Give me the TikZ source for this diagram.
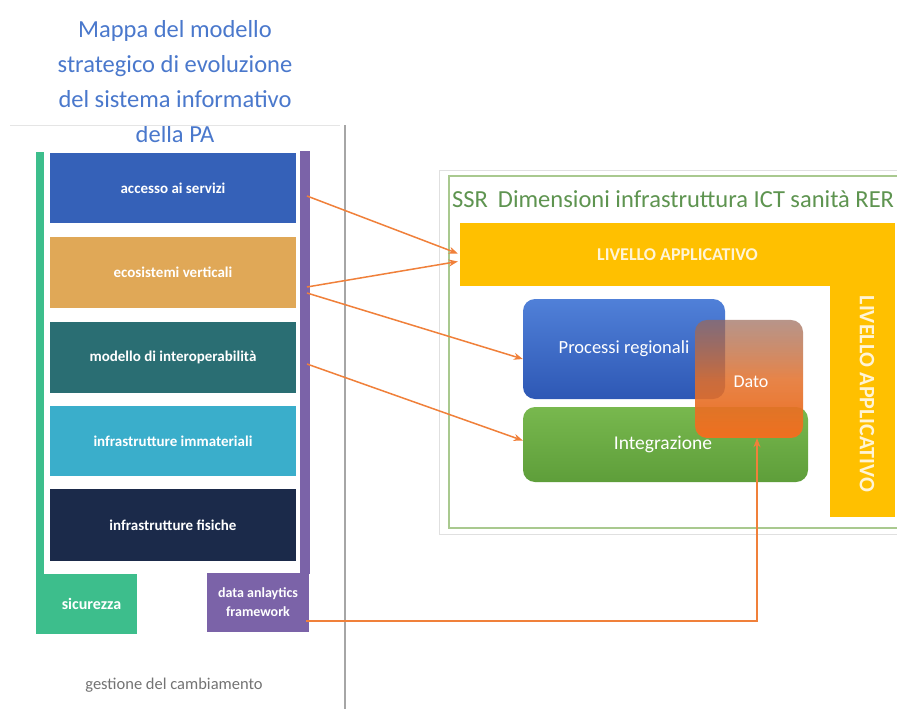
\documentclass[tikz,border=0pt]{standalone}
\usepackage{fontspec}
\setmainfont{Carlito}
\usetikzlibrary{arrows.meta,calc,fadings}
\definecolor{titleblue}{HTML}{4A78CC}
\definecolor{cacc}{HTML}{3561B8}
\definecolor{ceco}{HTML}{E0A857}
\definecolor{cmod}{HTML}{2A6E73}
\definecolor{cimm}{HTML}{3AAECB}
\definecolor{cfis}{HTML}{1B2A4A}
\definecolor{cgreen}{HTML}{3DBE8C}
\definecolor{cpurple}{HTML}{7B63A8}
\definecolor{cyellow}{HTML}{FFC000}
\definecolor{cframe}{HTML}{A9C98F}
\definecolor{cssr}{HTML}{5E9450}
\definecolor{carrow}{HTML}{F0803A}
\definecolor{cproctop}{HTML}{5080D8}
\definecolor{cprocbot}{HTML}{2E58B5}
\definecolor{cinttop}{HTML}{78B84E}
\definecolor{cintbot}{HTML}{5E9E3A}
\definecolor{cdatotop}{HTML}{9A6858}
\definecolor{cdatobot}{HTML}{F07020}
\definecolor{ccream}{HTML}{FFF4D6}
\tikzfading[name=datofade, top color=transparent!30, bottom color=transparent!0]
\tikzset{
  layer/.style={rectangle, inner sep=0pt, text=white, font=\bfseries\fontsize{15}{16}\selectfont},
  barshape/.style={rectangle, inner sep=0pt},
  rbox/.style={rectangle, rounded corners=12pt, inner sep=0pt, text=white, font=\fontsize{18.5}{20}\selectfont},
  conn/.style={draw=carrow, line width=1.5pt, -{Stealth[length=9pt,width=7pt]}},
}
\begin{document}
\begin{tikzpicture}[x=1pt,y=-1pt]
\useasboundingbox (0,0) rectangle (897,709);
\fill[white] (0,0) rectangle (897,709);

% title
\node[align=center, text=titleblue, font=\fontsize{24.5}{35}\selectfont] (title) at (175,82)
  {Mappa del modello\\strategico di evoluzione\\del sistema informativo\\della PA};

% faint separators
\draw[black!10, line width=0.8pt] (10,125) -- (340,125);
\draw[black!35, line width=1.5pt] (345,125) -- (345,709);

% left column
\node[barshape, fill=cgreen, minimum width=8pt, minimum height=425pt] (gbar) at (40,364) {};
\node[layer, fill=cgreen, minimum width=101pt, minimum height=60pt, text width=101pt, align=center, font=\bfseries\fontsize{16}{17}\selectfont] (sic) at (86.5,604) {\hspace*{10pt}sicurezza};
\node[barshape, fill=cpurple, minimum width=10pt, minimum height=423pt] (pbar) at (305,362.5) {};
\node[layer, fill=cpurple, minimum width=102pt, minimum height=59pt, align=center, font=\bfseries\fontsize{14}{19}\selectfont] (daf) at (258,602.5) {data anlaytics\\framework};

\node[layer, fill=cacc, minimum width=246pt, minimum height=70pt] (acc) at (173,188) {accesso ai servizi};
\node[layer, fill=ceco, minimum width=246pt, minimum height=71pt] (eco) at (173,272.5) {ecosistemi verticali};
\node[layer, fill=cmod, minimum width=246pt, minimum height=71pt] (mod) at (173,357.5) {modello di interoperabilità};
\node[layer, fill=cimm, minimum width=246pt, minimum height=70pt] (imm) at (173,441) {infrastrutture immateriali};
\node[layer, fill=cfis, minimum width=246pt, minimum height=72pt] (fis) at (173,525) {infrastrutture fisiche};

\node[text=black!55, font=\fontsize{16.5}{18}\selectfont] (gest) at (174,685) {gestione del cambiamento};

% right panel
\draw[black!12, line width=1pt] (439,170) rectangle (905,534);
\draw[cframe, line width=1.2pt] (449,176) rectangle (905,528);
\node[anchor=west, text=cssr, font=\fontsize{24.5}{26}\selectfont, inner sep=0pt] (ssr) at (452,199)
  {SSR\hspace{10pt}Dimensioni infrastruttura ICT sanità RER};
\node[barshape, fill=cyellow, minimum width=435pt, minimum height=63pt, text=ccream, font=\bfseries\fontsize{18}{20}\selectfont] (liv) at (677.5,254.5) {LIVELLO APPLICATIVO};
\node[barshape, fill=cyellow, minimum width=65pt, minimum height=231pt] (livv) at (862.5,401.5) {};
\node[rotate=-90, text=ccream, font=\bfseries\fontsize{22}{24}\selectfont] (livvt) at (867,394) {LIVELLO APPLICATIVO};

\node[rbox, top color=cinttop, bottom color=cintbot, minimum width=285pt, minimum height=75pt, font=\fontsize{19.5}{21}\selectfont] (integ) at (665.5,444.5) {\hspace*{-5pt}Integrazione};
\node[rbox, top color=cproctop, bottom color=cprocbot, minimum width=202pt, minimum height=100pt] (proc) at (624,349) {\raisebox{-3pt}{Processi regionali}};
\node[rbox, top color=cdatotop, bottom color=cdatobot, middle color=cdatobot!85!cdatotop, path fading=datofade, minimum width=108pt, minimum height=118pt] (dato) at (749,379) {};
\node[text=white, font=\fontsize{18}{20}\selectfont, inner sep=0pt] (datot) at (751,382) {Dato};

% connectors
\coordinate (s1) at (307,196);
\coordinate (s2) at (307,287);
\coordinate (s3) at (307,293);
\coordinate (s4) at (307,364);
\coordinate (s5) at (306,621);
\draw[conn] (s1) -- ($(liv.west)+(-2,-1)$);
\draw[conn] (s2) -- ($(liv.west)+(-2,7)$);
\draw[conn] (s3) -- ($(proc.west)+(0,10)$);
\draw[conn] (s4) -- ($(integ.west)+(0,-4)$);
\draw[conn] (s5) -| ($(dato.south)+(8,0)$);
\end{tikzpicture}
\end{document}
